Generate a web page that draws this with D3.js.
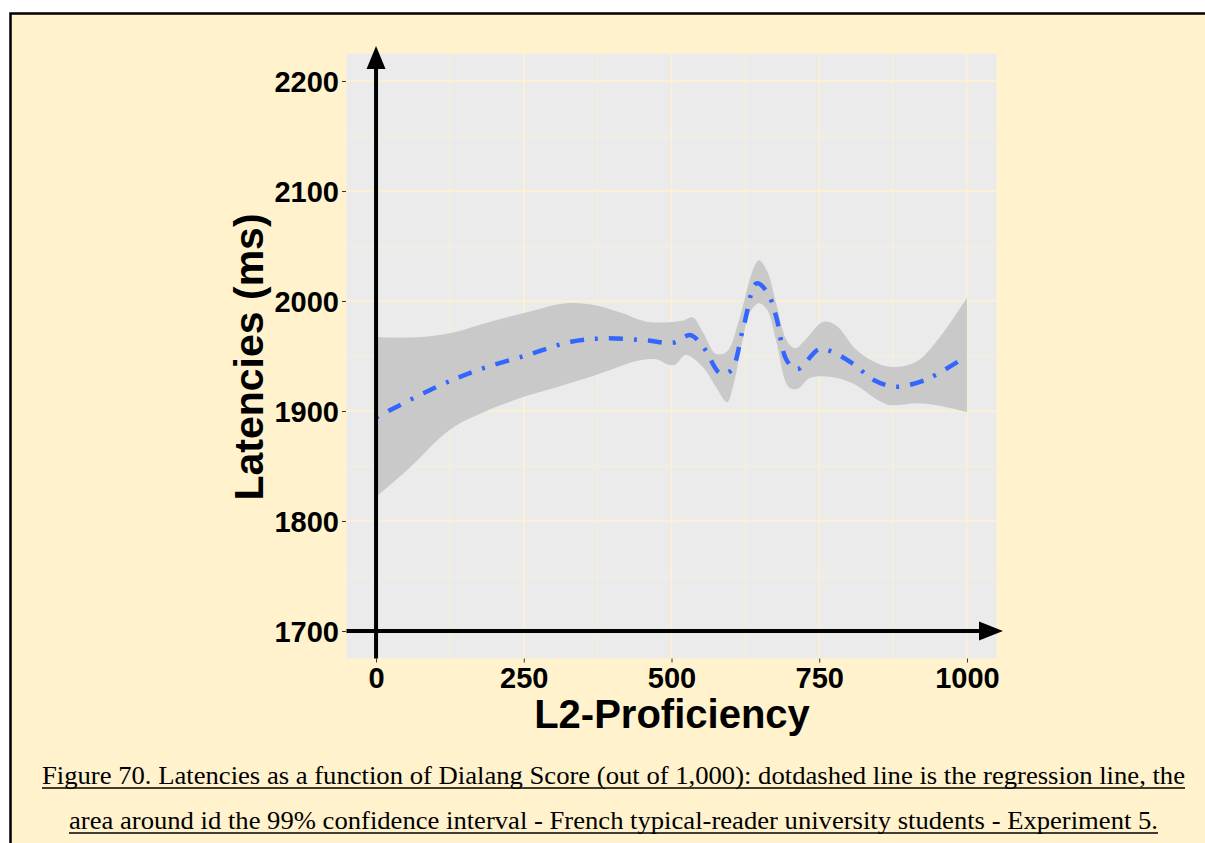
<!DOCTYPE html>
<html>
<head>
<meta charset="utf-8">
<script src="https://cdn.jsdelivr.net/npm/d3@7"></script>
<style>
  html, body { margin: 0; padding: 0; background: #ffffff; }
  svg { display: block; }
</style>
</head>
<body>
<svg id="chart" width="1205" height="843"></svg>
<script>
// ---- data ----
const xTicks = [0, 250, 500, 750, 1000];
const yTicks = [1700, 1800, 1900, 2000, 2100, 2200];
const xMinor = [125, 375, 625, 875];
const yMinor = [1750, 1850, 1950, 2050, 2150];

const fitX = [0, 95, 171, 257, 330, 388, 460, 503, 532, 554, 583, 601, 622, 644, 662, 677, 695, 713, 749, 771, 807, 843, 879, 923, 951, 1000];
const fitY = [1894, 1920, 1937, 1951, 1963, 1966, 1964, 1962, 1969, 1958, 1934, 1937, 1977, 2016, 2008, 1986, 1946, 1938, 1956, 1954, 1943, 1928, 1922, 1927, 1934, 1950];

const upperX = [0, 69, 127, 192, 257, 322, 373, 416, 460, 518, 536, 554, 575, 594, 615, 637, 648, 662, 677, 695, 709, 727, 756, 778, 814, 850, 879, 915, 951, 1000];
const upperY = [1967, 1967, 1971, 1981, 1990, 1998, 1996, 1989, 1981, 1982, 1985, 1971, 1952, 1954, 1984, 2027, 2037, 2027, 1998, 1964, 1957, 1965, 1981, 1978, 1955, 1943, 1940, 1945, 1965, 2003];

const lowerX = [0, 52, 125, 178, 257, 314, 373, 445, 474, 495, 506, 524, 553, 575, 594, 604, 619, 633, 648, 662, 677, 698, 713, 734, 771, 807, 865, 915, 951, 1000];
const lowerY = [1822, 1846, 1883, 1898, 1914, 1923, 1933, 1946, 1947, 1942, 1942, 1951, 1940, 1922, 1908, 1922, 1961, 1990, 1998, 1992, 1964, 1922, 1920, 1930, 1931, 1925, 1906, 1907, 1905, 1899];

const xTitle = "L2-Proficiency";
const yTitle = "Latencies (ms)";
const captionLines = [
  "Figure 70. Latencies as a function of Dialang Score (out of 1,000): dotdashed line is the regression line, the",
  "area around id the 99% confidence interval - French typical-reader university students - Experiment 5."
];

// ---- layout ----
const svg = d3.select("#chart");
const BG = "#FFF2CC";
const panel = { left: 346.5, right: 996.5, top: 53.5, bottom: 658.5 };

const x = d3.scaleLinear().domain([-50, 1050]).range([panel.left, panel.right]);
const y = d3.scaleLinear().domain([1675, 2225]).range([panel.bottom, panel.top]);

// outer frame
svg.append("rect").attr("x", 10.5).attr("y", 13.5).attr("width", 1210).attr("height", 850)
  .attr("fill", BG).attr("stroke", "#000").attr("stroke-width", 2.5);

// panel background
svg.append("rect").attr("x", panel.left).attr("y", panel.top)
  .attr("width", panel.right - panel.left).attr("height", panel.bottom - panel.top)
  .attr("fill", "#EBEBEB");

// grid
const grid = svg.append("g");
grid.selectAll(".vminor").data(xMinor).join("line")
  .attr("x1", d => x(d)).attr("x2", d => x(d)).attr("y1", panel.top).attr("y2", panel.bottom)
  .attr("stroke", BG).attr("stroke-width", 0.7);
grid.selectAll(".hminor").data(yMinor).join("line")
  .attr("y1", d => y(d)).attr("y2", d => y(d)).attr("x1", panel.left).attr("x2", panel.right)
  .attr("stroke", BG).attr("stroke-width", 0.7);
grid.selectAll(".vmajor").data(xTicks).join("line")
  .attr("x1", d => x(d)).attr("x2", d => x(d)).attr("y1", panel.top).attr("y2", panel.bottom)
  .attr("stroke", BG).attr("stroke-width", 1.3);
grid.selectAll(".hmajor").data(yTicks).join("line")
  .attr("y1", d => y(d)).attr("y2", d => y(d)).attr("x1", panel.left).attr("x2", panel.right)
  .attr("stroke", BG).attr("stroke-width", 1.3);

// ribbon
const curve = d3.curveCatmullRom.alpha(0.5);
const upperPts = upperX.map((d, i) => [x(d), y(upperY[i])]);
const lowerPts = lowerX.map((d, i) => [x(d), y(lowerY[i])]).reverse();
const lineGen = d3.line().curve(curve);
const upPath = lineGen(upperPts);
const lowPath = lineGen(lowerPts).replace(/^M/, "L");
svg.append("path").attr("d", upPath + lowPath + "Z")
  .attr("fill", "#C9C9C9").attr("stroke", "none");

// fit line
const fitPts = fitX.map((d, i) => [x(d), y(fitY[i])]);
svg.append("path").attr("d", lineGen(fitPts))
  .attr("fill", "none").attr("stroke", "#3366FF").attr("stroke-width", 4.5)
  .attr("stroke-dasharray", "3,11,14,11").attr("stroke-dashoffset", 0);

// axes ticks (ggplot-style small ticks outside panel)
const yAxis = d3.axisLeft(y).tickValues(yTicks).tickSize(4).tickPadding(3).tickFormat(d3.format("d"));
const gy = svg.append("g").attr("transform", `translate(${panel.left - 0.5},0)`).call(yAxis);
gy.select(".domain").remove();
gy.selectAll(".tick line").attr("stroke", "#333").attr("stroke-width", 1);
gy.selectAll(".tick text")
  .attr("font-family", "'Liberation Sans', Arial, sans-serif")
  .attr("font-weight", "bold").attr("font-size", 29).attr("fill", "#000")
  .attr("x", -7).attr("dy", "0.36em");

const xAxis = d3.axisBottom(x).tickValues(xTicks).tickSize(4).tickPadding(3).tickFormat(d3.format("d"));
const gx = svg.append("g").attr("transform", `translate(0,${panel.bottom})`).call(xAxis);
gx.select(".domain").remove();
gx.selectAll(".tick line").attr("stroke", "#333").attr("stroke-width", 1);
gx.selectAll(".tick text")
  .attr("font-family", "'Liberation Sans', Arial, sans-serif")
  .attr("font-weight", "bold").attr("font-size", 29).attr("fill", "#000")
  .attr("y", 29.5).attr("dy", 0);

// arrow axes
const x0 = x(0), y0 = y(1700);
svg.append("line").attr("x1", x0).attr("x2", x0).attr("y1", panel.bottom).attr("y2", 66)
  .attr("stroke", "#000").attr("stroke-width", 4);
svg.append("path").attr("d", `M${x0},46 L${x0 - 9.5},69 L${x0 + 9.5},69 Z`).attr("fill", "#000");
svg.append("line").attr("x1", panel.left).attr("x2", 982).attr("y1", y0).attr("y2", y0)
  .attr("stroke", "#000").attr("stroke-width", 4);
svg.append("path").attr("d", `M1003,${y0} L979,${y0 - 9.5} L979,${y0 + 9.5} Z`).attr("fill", "#000");

// titles
svg.append("text").attr("x", 672).attr("y", 728).attr("text-anchor", "middle")
  .attr("font-family", "'Liberation Sans', Arial, sans-serif").attr("font-weight", "bold")
  .attr("font-size", 40).attr("fill", "#000").text(xTitle);
svg.append("text").attr("transform", "translate(263,357) rotate(-90)").attr("text-anchor", "middle")
  .attr("font-family", "'Liberation Sans', Arial, sans-serif").attr("font-weight", "bold")
  .attr("font-size", 41).attr("fill", "#000").text(yTitle);

// caption
const capPos = [{ x1: 42, x2: 1185, base: 784, ul: 788 }, { x1: 69, x2: 1158, base: 829, ul: 833 }];
captionLines.forEach((t, i) => {
  const p = capPos[i];
  svg.append("text").attr("x", p.x1).attr("y", p.base)
    .attr("font-family", "'Liberation Serif', 'Times New Roman', Times, serif")
    .attr("font-size", 25.5).attr("fill", "#000")
    .attr("textLength", p.x2 - p.x1).attr("lengthAdjust", "spacingAndGlyphs").text(t);
  svg.append("line").attr("x1", p.x1).attr("x2", p.x2).attr("y1", p.ul).attr("y2", p.ul)
    .attr("stroke", "#000").attr("stroke-width", 1.3);
});
</script>
</body>
</html>
